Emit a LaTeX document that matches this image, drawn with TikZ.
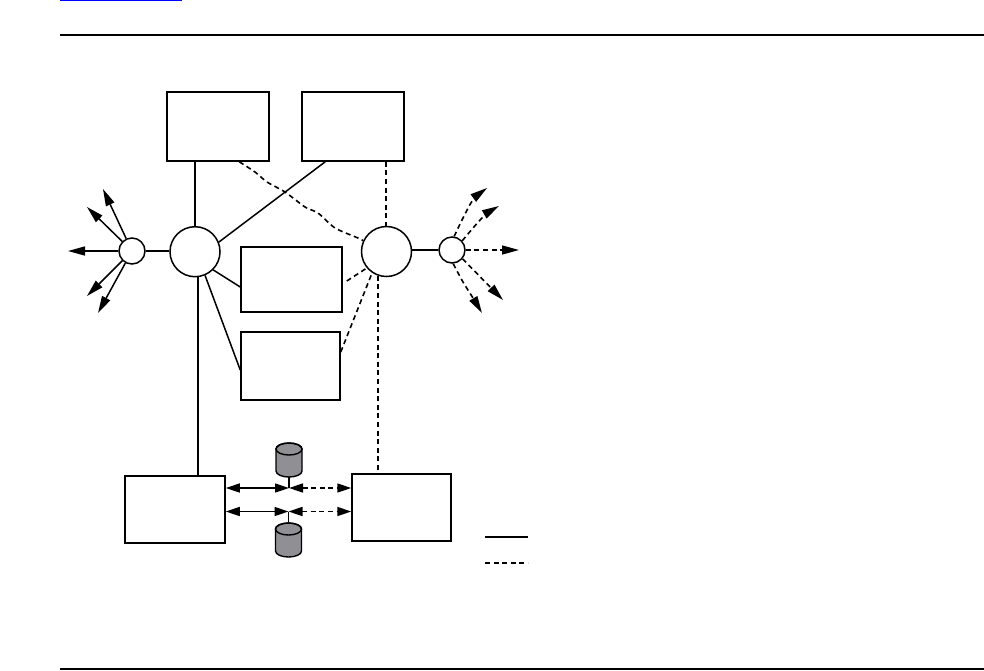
\documentclass[tikz,border=0pt]{standalone}
\usepackage{xcolor}
\usepackage{tikz}
\usetikzlibrary{arrows.meta}
\definecolor{diskcol}{RGB}{143,143,148}
\definecolor{linkcol}{RGB}{0,0,255}
\tikzset{
  boxnode/.style={draw,line width=1.5pt,inner sep=0pt},
  hubnode/.style={draw,circle,line width=1.5pt,inner sep=0pt,minimum size=50pt},
  smallhub/.style={draw,circle,line width=1.5pt,inner sep=0pt,minimum size=26pt},
  solidline/.style={line width=1.5pt},
  dashline/.style={line width=1.6pt,dash pattern=on 5pt off 3.6pt},
  tipfan/.style={-{Triangle[length=17pt,width=9pt]}},
  tipbus/.style={{Triangle[length=14pt,width=9pt]}-{Triangle[length=14pt,width=9pt]}},
  rulebar/.style={line width=1.8pt},
  pics/diskpic/.style={code={
    \begin{scope}[y=1pt,line width=1.4pt]
    \filldraw[fill=diskcol] (-13,11) -- (-13,-11) arc (180:360:13pt and 6pt) -- (13,11) arc (0:180:13pt and 6pt) -- cycle;
    \draw (0,11) ellipse (13pt and 6pt);
    \end{scope}
  }}
}
\begin{document}
\begin{tikzpicture}[x=1pt,y=-1pt]
\useasboundingbox (0,0) rectangle (984,670);
\coordinate (ruleTa) at (60,35);
\coordinate (ruleTb) at (984,35);
\coordinate (ruleBa) at (60,669);
\coordinate (ruleBb) at (984,669);
\coordinate (linka) at (60,0.5);
\coordinate (linkb) at (182,0.5);
\draw[linkcol,line width=1.2pt] (linka) -- (linkb);
\draw[rulebar] (ruleTa) -- (ruleTb);
\draw[rulebar] (ruleBa) -- (ruleBb);

\node[boxnode,minimum width=102pt,minimum height=69pt] (boxA) at (218,126.5) {};
\node[boxnode,minimum width=102pt,minimum height=69pt] (boxB) at (353,126.5) {};
\node[boxnode,minimum width=101pt,minimum height=65pt] (boxC) at (291.5,279.5) {};
\node[boxnode,minimum width=99pt,minimum height=68pt] (boxD) at (290.5,366) {};
\node[boxnode,minimum width=100pt,minimum height=67pt] (boxE) at (175,509.5) {};
\node[boxnode,minimum width=99pt,minimum height=67pt] (boxF) at (401.5,507.5) {};

\node[hubnode] (hubL) at (195,251.7) {};
\node[hubnode] (hubR) at (386.5,251.5) {};
\node[smallhub] (smallL) at (132,251) {};
\node[smallhub] (smallR) at (452,250) {};

\draw[solidline] (smallL.east) -- (hubL.west |- smallL.east);
\draw[solidline] (hubR.east |- smallR.west) -- (smallR.west);
\draw[solidline] (boxA.south -| hubL) -- (hubL.north);
\draw[solidline] (hubL.22) -- ([xshift=24pt]boxB.south west);
\draw[solidline] (hubL.-45) -- ([yshift=-7.5pt]boxC.west);
\draw[solidline] (hubL.-67) -- ([yshift=-4pt]boxD.west);
\draw[solidline] (hubL.-83) -- (hubL.-83 |- boxE.north);

\coordinate (srcA) at ([xshift=73pt]boxA.south west);
\draw[dashline] plot[smooth,tension=0.4] coordinates {(srcA) (255,172) (267,182) (285,192) (305,207) (318,213) (335,228) (358,238) (hubR.155)};
\draw[dashline] ([xshift=-0.8pt]boxB.south -| hubR) -- ([xshift=-0.8pt]hubR.north);
\draw[dashline] ([yshift=-1.5pt,xshift=4pt]boxC.east) -- (hubR.-140);
\draw[dashline] ([yshift=14pt]boxD.east) -- (hubR.-124);
\draw[dashline] (hubR.-110) -- (hubR.-110 |- boxF.north);

\foreach \n/\px/\py in {a/103/189,b/87/207,c/68/251,d/87/296,e/98/313}
  \coordinate (tipL\n) at (\px,\py);
\foreach \n in {a,b,c,d,e}
  \draw[solidline,tipfan] (smallL) -- (tipL\n);

\coordinate (tipRa) at (487,188);
\coordinate (tipRb) at (499,206);
\coordinate (tipRc) at (519,250);
\coordinate (tipRd) at (503,300);
\coordinate (tipRe) at (482,313);
\draw[dashline,tipfan] plot[smooth,tension=0.5] coordinates {(smallR.81) (463,218) (473,200) (tipRa)};
\draw[dashline,tipfan] plot[smooth,tension=0.5] coordinates {(smallR.42) (483,217) (tipRb)};
\draw[dashline,tipfan] (smallR.east) -- (tipRc);
\draw[dashline,tipfan] (smallR.-40) -- (tipRd);
\draw[dashline,tipfan] plot[smooth,tension=0.5] coordinates {(smallR.-85) (463,282) (473,298) (tipRe)};

\pic at (289,460) {diskpic};
\pic at (288.5,540) {diskpic};
\coordinate (diskTb) at (289,477);
\coordinate (diskBt) at (288.5,523);
\coordinate (busT) at (289,488);
\coordinate (busB) at (288.5,511.5);
\draw[solidline] (diskTb) -- (busT);
\draw[solidline] (diskBt) -- (busB);
\draw[solidline,tipbus] (boxE.east |- busT) -- (busT);
\draw[dashline,tipbus] (busT) -- (boxF.west |- busT);
\draw[solidline,tipbus] (boxE.east |- busB) -- (busB);
\draw[dashline,tipbus] (busB) -- (boxF.west |- busB);

\coordinate (keyAa) at (485,537);
\coordinate (keyAb) at (528,537);
\coordinate (keyBa) at (485,563);
\coordinate (keyBb) at (528,563);
\draw[solidline] (keyAa) -- (keyAb);
\draw[dashline] (keyBa) -- (keyBb);
\end{tikzpicture}
\end{document}
